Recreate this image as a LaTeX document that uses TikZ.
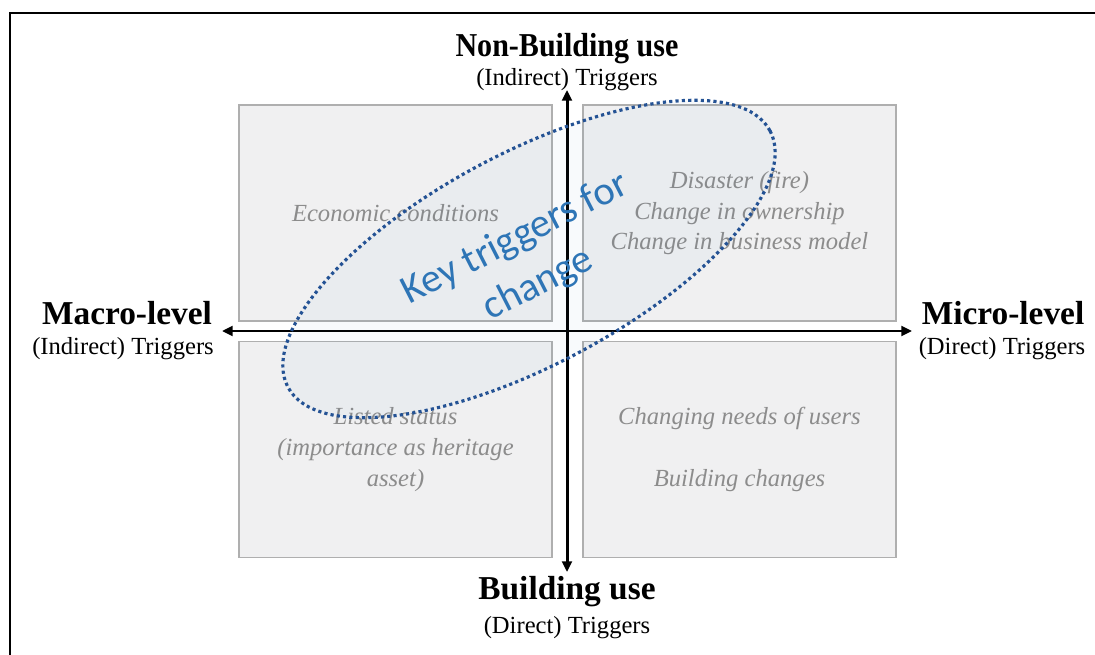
\documentclass[tikz,border=0pt]{standalone}
\usepackage{fontspec}
\setmainfont{Liberation Serif}
\newfontfamily\calibri{Carlito}
\usetikzlibrary{arrows.meta}
\definecolor{boxgray}{RGB}{240,240,241}
\definecolor{edgegray}{RGB}{175,175,175}
\definecolor{textgray}{RGB}{140,140,140}
\definecolor{keyblue}{RGB}{46,117,182}
\definecolor{dotblue}{RGB}{36,82,148}

\tikzset{
    quad/.style={draw=edgegray, line width=1.1pt, fill=boxgray, inner sep=0pt,
        minimum width=6.26cm, minimum height=4.32cm, align=center, text=textgray,
        font=\fontsize{14}{17.5}\selectfont\itshape},
    head/.style={inner sep=0pt, font=\fontsize{19}{22}\selectfont\bfseries},
    sub/.style={inner sep=0pt, font=\fontsize{14}{16}\selectfont},
    axis/.style={line width=1.7pt,
        {Triangle[length=6pt,width=5.5pt]}-{Triangle[length=6pt,width=5.5pt]}},
    keytext/.style={text=keyblue, align=center, inner sep=0pt,
        font=\calibri\fontsize{23}{29}\selectfont},
}

\begin{document}
\begin{tikzpicture}[x=0.02cm,y=-0.02cm]
                \useasboundingbox (0,0) rectangle (1095,655);
                \fill[white] (0,0) rectangle (1095,655);
                % frame
                \draw[line width=1.2pt] (10,655) -- (10,13) -- (1095,13);

                % the four quadrants
                \node[quad] (tl) at (395.5,213) {Economic conditions};
                \node[quad] (tr) at (739.5,213) {Disaster (fire)\\Change in ownership\\Change in business model};
                \node[quad] (bl) at (395.5,449.5) {Listed status\\(importance as heritage\\asset)};
                \node[quad] (br) at (739.5,449.5) {Changing needs of users\\[17.5pt]Building changes};

                % axes
                \coordinate (west) at (222,331);
                \coordinate (east) at (912,331);
                \coordinate (north) at (567,90);
                \coordinate (south) at (567,572);
                \draw[axis] (west) -- (east);
                \draw[axis] (south) -- (north);

                % axis labels
                \node[head, xscale=0.9, transform shape] (nonbuild) at (567,49) {Non-Building use};
                \node[sub] (indirtop) at (567,80) {(Indirect) Triggers};
                \node[head] (build) at (567,592) {Building use};
                \node[sub] (dirbottom) at (567,628) {(Direct) Triggers};
                \node[head] (macro) at (127,313) {Macro-level};
                \node[sub] (indirleft) at (123,349) {(Indirect) Triggers};
                \node[head] (micro) at (1003,313) {Micro-level};
                \node[sub] (dirright) at (1002,349) {(Direct) Triggers};

                % key triggers
                \draw[dotblue, line width=1.8pt, dash pattern=on 1.8pt off 1.8pt,
                    fill=keyblue, fill opacity=0.03, rotate around={28:(529,259)}]
                    (529,259) ellipse [x radius=273, y radius=106];
                \node[keytext, rotate=27] (key) at (527,262) {Key triggers for\\change};

            \end{tikzpicture}
\end{document}
